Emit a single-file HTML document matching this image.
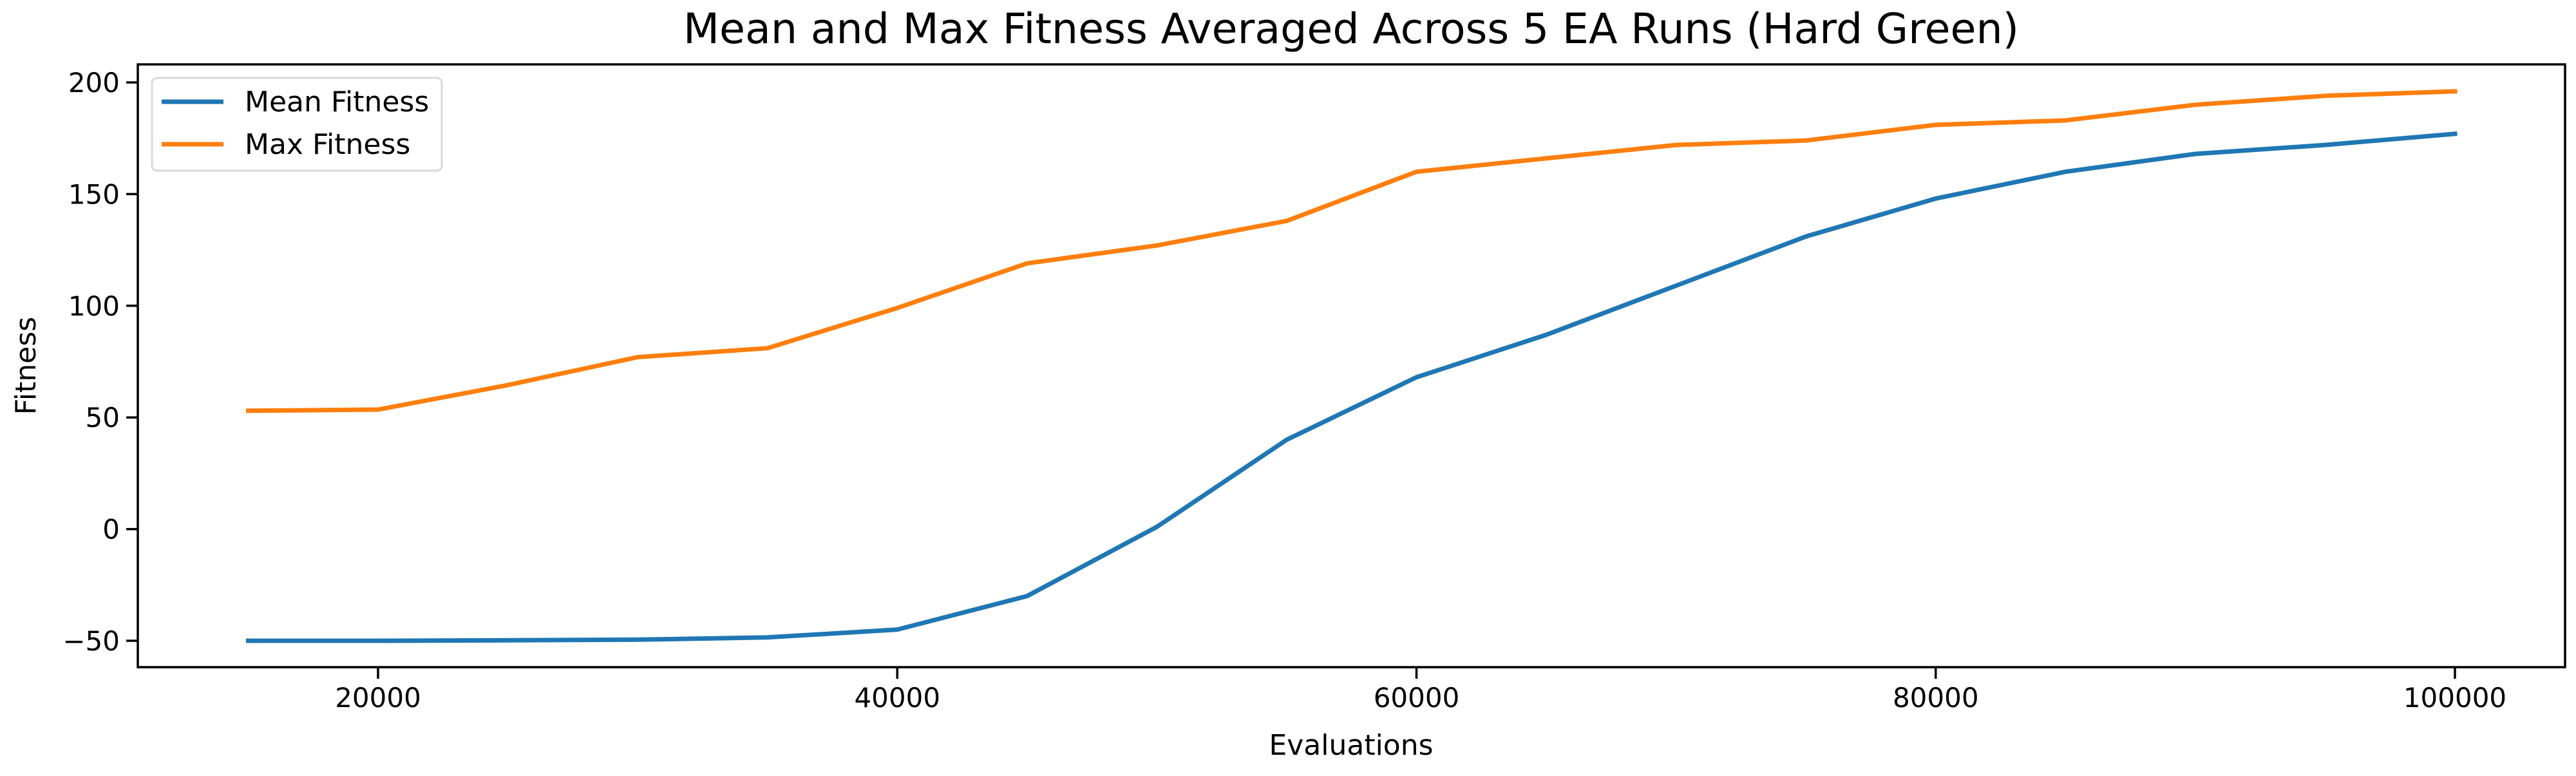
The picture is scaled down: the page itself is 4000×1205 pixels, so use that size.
<!DOCTYPE html>
<html><head><meta charset="utf-8"><style>
html,body{margin:0;padding:0;background:#fff;}
svg text{font-family:"DejaVu Sans","Liberation Sans",sans-serif;fill:#000;}
</style></head><body>
<svg id="chart" width="4000" height="1200" viewBox="0 0 4000 1200" xmlns="http://www.w3.org/2000/svg">
<rect width="4000" height="1200" fill="#fff"/>
<text x="2098" y="67" font-size="65" text-anchor="middle">Mean and Max Fitness Averaged Across 5 EA Runs (Hard Green)</text>
<g id="lines"></g>
<g id="axes"></g>
<text x="2098" y="1172" font-size="44" text-anchor="middle">Evaluations</text>
<text transform="translate(55,568) rotate(-90)" font-size="44" text-anchor="middle">Fitness</text>
<g>
<rect x="236" y="121" width="450" height="144" rx="8" fill="#fff" stroke="#d9d9d9" stroke-width="3"/>
<line x1="251" y1="158" x2="347" y2="158" stroke="#1f77b4" stroke-width="7"/>
<text x="380" y="173" font-size="44">Mean Fitness</text>
<line x1="251" y1="224" x2="347" y2="224" stroke="#ff7f0e" stroke-width="7"/>
<text x="380" y="239" font-size="44">Max Fitness</text>
</g>
</svg>
<script>
const evaluations=[15000,20000,25000,30000,35000,40000,45000,50000,55000,60000,65000,70000,75000,80000,85000,90000,95000,100000];
const meanFitness=[-50,-50,-49.8,-49.5,-48.5,-45,-30,1,40,68,87,109,131,148,160,168,172,177];
const maxFitness=[53,53.5,64.5,77,81,99,119,127,138,160,166,172,174,181,183,190,194,196];
const xTicks=[20000,40000,60000,80000,100000];
const yTicks=[-50,0,50,100,150,200];
const L=214,R=3983,T=100,B=1036;
function xs(v){return 587+(v-20000)*(3812-587)/80000;}
function ys(v){return 128+(200-v)*(995-128)/250;}
const NS="http://www.w3.org/2000/svg";
const lines=document.getElementById('lines'),axes=document.getElementById('axes');
function mk(tag,attrs,parent){const e=document.createElementNS(NS,tag);for(const k in attrs)e.setAttribute(k,attrs[k]);parent.appendChild(e);return e;}
function series(vals,color,name){
  const p=mk('polyline',{points:evaluations.map((x,i)=>xs(x)+','+ys(vals[i])).join(' '),fill:'none',stroke:color,'stroke-width':7,'stroke-linejoin':'round','stroke-linecap':'square'},lines);
  
  
}
series(meanFitness,'#1f77b4','mean-fitness-line');
series(maxFitness,'#ff7f0e','max-fitness-line');
const frame=mk('rect',{x:L,y:T,width:R-L,height:B-T,fill:'none',stroke:'#000','stroke-width':3.5},axes);


xTicks.forEach(v=>{
  const x=xs(v);
  mk('line',{x1:x,y1:B,x2:x,y2:B+18,stroke:'#000','stroke-width':3.5},axes);
  const t=mk('text',{x:x,y:B+62,'font-size':42,'text-anchor':'middle'},axes);
  t.textContent=v;
  
  
});
yTicks.forEach(v=>{
  const y=ys(v);
  mk('line',{x1:L-18,y1:y,x2:L,y2:y,stroke:'#000','stroke-width':3.5},axes);
  const t=mk('text',{x:L-28,y:y+15,'font-size':42,'text-anchor':'end'},axes);
  t.textContent=v<0?'\u2212'+Math.abs(v):v;
  
  
});
</script>
</body></html>
